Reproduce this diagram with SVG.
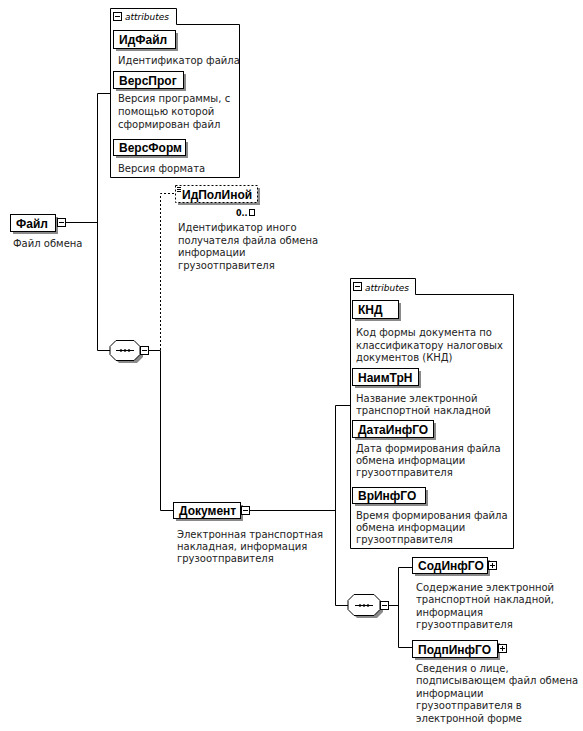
<svg xmlns="http://www.w3.org/2000/svg" width="583" height="731" viewBox="0 0 583 731">
<defs>
<style>
.bg{fill:#fff}
.ln{stroke:#000;stroke-width:1;fill:none}
.dl{stroke:#000;stroke-width:1;fill:none;stroke-dasharray:2,2}
.box{fill:#fff;stroke:#000;stroke-width:1}
.dbox{fill:#fff;stroke:#000;stroke-width:1;stroke-dasharray:2,2}
.sh{fill:#8a8a8a}
.lbl{font-family:"Liberation Sans",Arial,sans-serif;font-weight:bold;font-size:12px;fill:#000}
.doc{font-family:"DejaVu Sans",Verdana,sans-serif;font-size:10px;fill:#222}
.att{font-family:"DejaVu Sans",Verdana,sans-serif;font-style:italic;font-size:9px;fill:#000}
.occ{font-family:"DejaVu Sans",Verdana,sans-serif;font-weight:bold;font-size:8px;fill:#000}
.ico{fill:#fff;stroke:#000;stroke-width:1}
</style>
</defs>
<rect class="bg" x="0" y="0" width="583" height="731"/>

<g id="connectors">
<path class="ln" d="M66,222.5 H97.5"/>
<path class="ln" d="M97.5,93.5 V350.5"/>
<path class="ln" d="M97.5,93.5 H110"/>
<path class="ln" d="M97.5,350.5 H110"/>
<path class="ln" d="M148,350.5 H160.5"/>
<path class="dl" d="M160.5,350 V193.5 H175"/>
<path class="ln" d="M160.5,350.5 V510.5 H173"/>
<path class="ln" d="M249,510.5 H335.5"/>
<path class="ln" d="M335.5,405.5 V605.5"/>
<path class="ln" d="M335.5,405.5 H350"/>
<path class="ln" d="M335.5,605.5 H348"/>
<path class="ln" d="M388,605.5 H398.5"/>
<path class="ln" d="M398.5,567.5 V647.5"/>
<path class="ln" d="M398.5,567.5 H412"/>
<path class="ln" d="M398.5,647.5 H412"/>
</g>

<g id="node-fail">
<rect class="sh" x="13" y="217" width="45" height="17"/>
<rect class="box" x="10.5" y="214.5" width="45" height="17"/>
<text class="lbl" x="16" y="227.5">Файл</text>
<rect class="ico" x="57.5" y="218.5" width="8" height="8"/>
<path class="ln" d="M59,222.5 H64"/>
<text class="doc" x="13" y="247">Файл обмена</text>
</g>

<g id="attrs-fail">
<path class="box" d="M110.5,177.5 V8.5 H176.5 V24.5 H239.5 V177.5 Z"/>
<rect class="ico" x="113.5" y="12.5" width="8" height="8"/>
<path class="ln" d="M115,16.5 H120"/>
<text class="att" x="125" y="20">attributes</text>
</g>

<g id="attr-idfail">
<rect class="sh" x="116" y="33" width="62" height="18"/>
<rect class="box" x="113.5" y="30.5" width="62" height="18"/>
<text class="lbl" x="119" y="44">ИдФайл</text>
<text class="doc" x="118" y="64">Идентификатор файла</text>
</g>

<g id="attr-versprog">
<rect class="sh" x="116" y="74" width="70" height="17"/>
<rect class="box" x="113.5" y="71.5" width="70" height="17"/>
<text class="lbl" x="119" y="85">ВерсПрог</text>
<text class="doc" x="118" y="102">Версия программы, с</text>
<text class="doc" x="118" y="115">помощью которой</text>
<text class="doc" x="118" y="128">сформирован файл</text>
</g>

<g id="attr-versform">
<rect class="sh" x="116" y="142" width="72" height="16"/>
<rect class="box" x="113.5" y="139.5" width="72" height="16"/>
<text class="lbl" x="119" y="152">ВерсФорм</text>
<text class="doc" x="118" y="172">Версия формата</text>
</g>

<g id="seq-1">
<path class="sh" d="M119,344 H137 L143,350 V357 L137,363 H119 L113,357 V350 Z"/>
<path class="box" d="M116,340.5 H134 L140,346.5 V354.5 L134,360.5 H116 L110,354.5 V346.5 Z"/>
<path class="ln" d="M116,350.5 H134"/>
<circle cx="121" cy="350.5" r="1.3"/>
<circle cx="125" cy="350.5" r="1.3"/>
<circle cx="129" cy="350.5" r="1.3"/>
<rect class="ico" x="140.5" y="346.5" width="8" height="8"/>
<path class="ln" d="M142,350.5 H147"/>
</g>

<g id="node-idpolinoy">
<rect class="sh" x="178" y="188" width="82" height="17"/>
<rect class="dbox" x="175.5" y="185.5" width="82" height="17"/>
<path class="ln" d="M177,187.5 H181 M177,189.5 H181 M177,191.5 H181"/>
<text class="lbl" x="182" y="198.5">ИдПолИной</text>
<text class="occ" x="236" y="216">0..</text>
<rect class="ln" x="249.5" y="209.5" width="5" height="6"/>
<text class="doc" x="178" y="231">Идентификатор иного</text>
<text class="doc" x="178" y="244">получателя файла обмена</text>
<text class="doc" x="178" y="256">информации</text>
<text class="doc" x="178" y="269">грузоотправителя</text>
</g>

<g id="node-dokument">
<rect class="sh" x="176" y="505" width="67" height="16"/>
<rect class="box" x="173.5" y="502.5" width="67" height="16"/>
<text class="lbl" x="179" y="515">Документ</text>
<rect class="ico" x="241.5" y="506.5" width="8" height="8"/>
<path class="ln" d="M243,510.5 H248"/>
<text class="doc" x="177" y="538">Электронная транспортная</text>
<text class="doc" x="177" y="550">накладная, информация</text>
<text class="doc" x="177" y="562">грузоотправителя</text>
</g>

<g id="attrs-dokument">
<path class="box" d="M350.5,548.5 V278.5 H415.5 V294.5 H513.5 V548.5 Z"/>
<rect class="ico" x="353.5" y="282.5" width="8" height="8"/>
<path class="ln" d="M355,286.5 H360"/>
<text class="att" x="365" y="291">attributes</text>
</g>

<g id="attr-knd">
<rect class="sh" x="355" y="303" width="46" height="18"/>
<rect class="box" x="352.5" y="300.5" width="46" height="18"/>
<text class="lbl" x="358" y="314">КНД</text>
<text class="doc" x="356" y="336">Код формы документа по</text>
<text class="doc" x="356" y="349">классификатору налоговых</text>
<text class="doc" x="356" y="361">документов (КНД)</text>
</g>

<g id="attr-naimtrn">
<rect class="sh" x="355" y="371" width="66" height="17"/>
<rect class="box" x="352.5" y="368.5" width="66" height="17"/>
<text class="lbl" x="358" y="382">НаимТрН</text>
<text class="doc" x="356" y="402">Название электронной</text>
<text class="doc" x="356" y="414">транспортной накладной</text>
</g>

<g id="attr-datainfgo">
<rect class="sh" x="355" y="423" width="81" height="17"/>
<rect class="box" x="352.5" y="420.5" width="81" height="17"/>
<text class="lbl" x="358" y="434">ДатаИнфГО</text>
<text class="doc" x="356" y="452">Дата формирования файла</text>
<text class="doc" x="356" y="464">обмена информации</text>
<text class="doc" x="356" y="476">грузоотправителя</text>
</g>

<g id="attr-vrinfgo">
<rect class="sh" x="355" y="490" width="73" height="16"/>
<rect class="box" x="352.5" y="487.5" width="73" height="16"/>
<text class="lbl" x="358" y="500">ВрИнфГО</text>
<text class="doc" x="356" y="519">Время формирования файла</text>
<text class="doc" x="356" y="531">обмена информации</text>
<text class="doc" x="356" y="543">грузоотправителя</text>
</g>

<g id="seq-2">
<path class="sh" d="M357,598 H377 L383,604 V612 L377,618 H357 L351,612 V604 Z"/>
<path class="box" d="M354,594.5 H374 L380,600.5 V609.5 L374,615.5 H354 L348,609.5 V600.5 Z"/>
<path class="ln" d="M355,605.5 H373"/>
<circle cx="360" cy="605.5" r="1.3"/>
<circle cx="364" cy="605.5" r="1.3"/>
<circle cx="368" cy="605.5" r="1.3"/>
<rect class="ico" x="380.5" y="601.5" width="8" height="8"/>
<path class="ln" d="M382,605.5 H387"/>
</g>

<g id="node-sodinfgo">
<rect class="sh" x="415" y="560" width="75" height="16"/>
<rect class="box" x="412.5" y="557.5" width="75" height="16"/>
<text class="lbl" x="418" y="570">СодИнфГО</text>
<rect class="ico" x="488.5" y="561.5" width="8" height="8"/>
<path class="ln" d="M490,565.5 H495 M492.5,563 V568"/>
<text class="doc" x="416" y="591">Содержание электронной</text>
<text class="doc" x="416" y="603">транспортной накладной,</text>
<text class="doc" x="416" y="616">информация</text>
<text class="doc" x="416" y="628">грузоотправителя</text>
</g>

<g id="node-podpinfgo">
<rect class="sh" x="415" y="643" width="85" height="17"/>
<rect class="box" x="412.5" y="640.5" width="85" height="17"/>
<text class="lbl" x="418" y="654">ПодпИнфГО</text>
<rect class="ico" x="498.5" y="644.5" width="8" height="8"/>
<path class="ln" d="M500,648.5 H505 M502.5,646 V651"/>
<text class="doc" x="416" y="672">Сведения о лице,</text>
<text class="doc" x="416" y="684">подписывающем файл обмена</text>
<text class="doc" x="416" y="697">информации</text>
<text class="doc" x="416" y="709">грузоотправителя в</text>
<text class="doc" x="416" y="722">электронной форме</text>
</g>
</svg>
